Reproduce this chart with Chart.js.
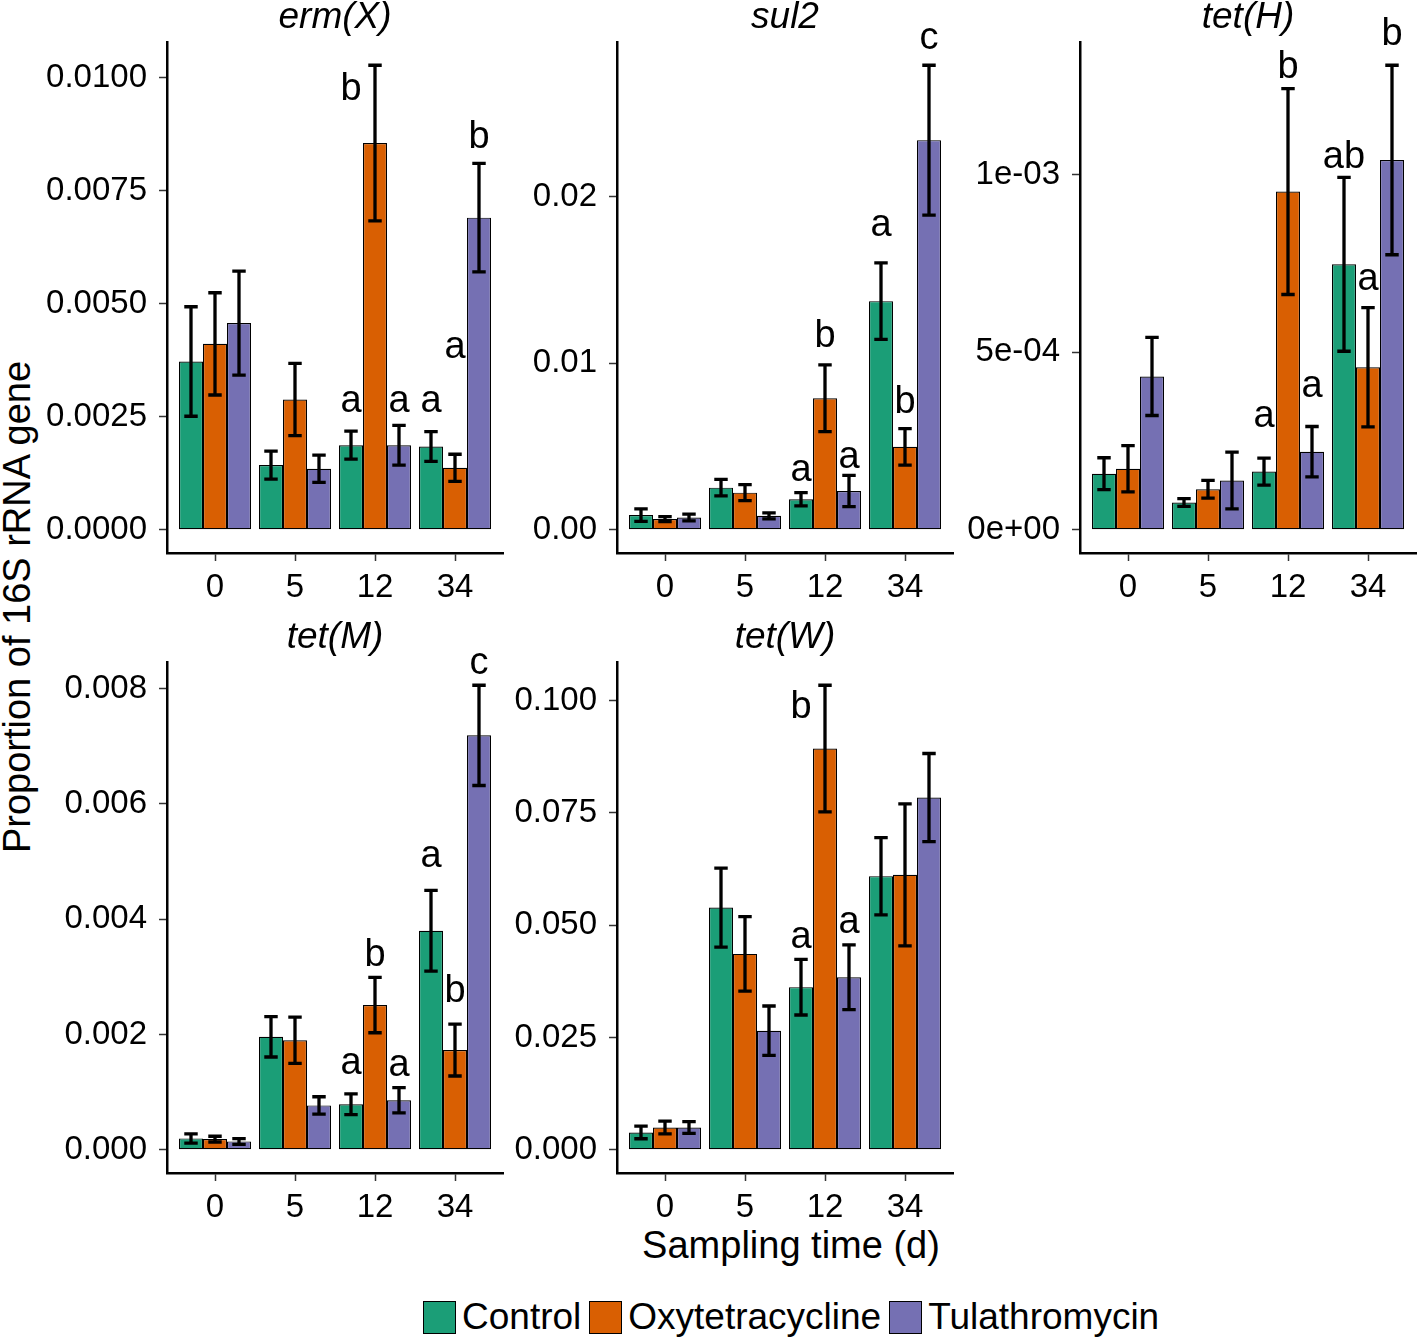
<!DOCTYPE html>
<html>
<head>
<meta charset="utf-8">
<script src="https://cdn.jsdelivr.net/npm/chart.js@4.4.1/dist/chart.umd.min.js"></script>
<style>
  body { margin: 0; background: #fff; width: 1418px; height: 1342px; position: relative; overflow: hidden;
         font-family: 'Liberation Sans', Arial, sans-serif; color: #000; }
  canvas { position: absolute; }
  .ytitle { position: absolute; left: 17px; top: 607px; transform: translate(-50%, -50%) rotate(-90deg);
            white-space: nowrap; font-size: 38px; }
  .xtitle { position: absolute; left: 791px; top: 1245px; transform: translate(-50%, -50%);
            white-space: nowrap; font-size: 38px; }
  #legend { position: absolute; left: 423px; top: 1300px; display: flex; align-items: center; height: 34px; }
  #legend .box { width: 31px; height: 31px; border: 1.5px solid #000; margin-right: 6px; }
  #legend .lab { font-size: 37px; line-height: 34px; margin-right: 8px; }
</style>
</head>
<body>
<div class="ytitle">Proportion of 16S rRNA gene</div>
<div class="xtitle">Sampling time (d)</div>
<div id="legend"></div>

<script>
// sampling days and treatments
const days = ['0', '5', '12', '34'];
const treatments = ['Control', 'Oxytetracycline', 'Tulathromycin'];
const colors = ['#1B9E77', '#D95F02', '#7570B3'];

// erm(X): means and standard errors, one row per treatment
const ermX_mean = [[0.00372, 0.00143, 0.00187, 0.00184],
                   [0.00411, 0.00288, 0.00855, 0.00137],
                   [0.00457, 0.00135, 0.00187, 0.00690]];
const ermX_se   = [[0.00121, 0.00031, 0.00031, 0.00033],
                   [0.00113, 0.00080, 0.00172, 0.00030],
                   [0.00115, 0.00030, 0.00044, 0.00120]];
const ermX_ticks = [0, 0.0025, 0.005, 0.0075, 0.01];
const ermX_tickLabels = ['0.0000', '0.0025', '0.0050', '0.0075', '0.0100'];
// [day index, treatment index, letter, height]
const ermX_letters = [[2, 0, 'a', 0.0026], [2, 1, 'b', 0.00951], [2, 2, 'a', 0.0026],
                      [3, 0, 'a', 0.0026], [3, 1, 'a', 0.0038], [3, 2, 'b', 0.00845]];

// sul2
const sul2_mean = [[0.00088, 0.00253, 0.00183, 0.01373],
                   [0.00064, 0.00223, 0.00790, 0.00498],
                   [0.00074, 0.00084, 0.00233, 0.02340]];
const sul2_se   = [[0.00038, 0.00050, 0.00040, 0.00230],
                   [0.00015, 0.00048, 0.00200, 0.00110],
                   [0.00020, 0.00018, 0.00094, 0.00450]];
const sul2_ticks = [0, 0.01, 0.02];
const sul2_tickLabels = ['0.00', '0.01', '0.02'];
const sul2_letters = [[2, 0, 'a', 0.00291], [2, 1, 'b', 0.01097], [2, 2, 'a', 0.00374],
                      [3, 0, 'a', 0.01765], [3, 1, 'b', 0.00703], [3, 2, 'c', 0.02888]];

// tet(H)
const tetH_mean = [[0.000158, 0.000077, 0.000164, 0.000748],
                   [0.000172, 0.000114, 0.000953, 0.000458],
                   [0.000432, 0.000139, 0.000220, 0.001042]];
const tetH_se   = [[0.000045, 0.000011, 0.000038, 0.000245],
                   [0.000065, 0.000025, 0.000290, 0.000168],
                   [0.000110, 0.000080, 0.000071, 0.000267]];
const tetH_ticks = [0, 0.0005, 0.001];
const tetH_tickLabels = ['0e+00', '5e-04', '1e-03'];
const tetH_letters = [[2, 0, 'a', 0.000291], [2, 1, 'b', 0.001273], [2, 2, 'a', 0.000375],
                      [3, 0, 'ab', 0.00102], [3, 1, 'a', 0.000675], [3, 2, 'b', 0.001366]];

// tet(M)
const tetM_mean = [[0.000197, 0.00196, 0.00079, 0.00380],
                   [0.000185, 0.00190, 0.00251, 0.00173],
                   [0.000145, 0.00077, 0.00086, 0.00719]];
const tetM_se   = [[0.00008, 0.00035, 0.00018, 0.00070],
                   [0.00005, 0.00040, 0.00048, 0.00045],
                   [0.00005, 0.00015, 0.00022, 0.00087]];
const tetM_ticks = [0, 0.002, 0.004, 0.006, 0.008];
const tetM_tickLabels = ['0.000', '0.002', '0.004', '0.006', '0.008'];
const tetM_letters = [[2, 0, 'a', 0.00131], [2, 1, 'b', 0.00318], [2, 2, 'a', 0.00128],
                      [3, 0, 'a', 0.00491], [3, 1, 'b', 0.00257], [3, 2, 'c', 0.00826]];

// tet(W)
const tetW_mean = [[0.00385, 0.0539, 0.0362, 0.0609],
                   [0.00496, 0.0436, 0.0893, 0.0612],
                   [0.00496, 0.0265, 0.0384, 0.0784]];
const tetW_se   = [[0.0014, 0.0088, 0.0062, 0.0086],
                   [0.0014, 0.0083, 0.0141, 0.0158],
                   [0.0013, 0.0055, 0.0072, 0.0098]];
const tetW_ticks = [0, 0.025, 0.05, 0.075, 0.1];
const tetW_tickLabels = ['0.000', '0.025', '0.050', '0.075', '0.100'];
const tetW_letters = [[2, 0, 'a', 0.0449], [2, 1, 'b', 0.0961], [2, 2, 'a', 0.0482]];

Chart.defaults.font.family = "'Liberation Sans', Arial, sans-serif";
Chart.defaults.color = '#000';

// plot area of each facet on the page
const PW = 336, PH = 511, LEFT = 140, TOP = 45, BOTTOM = 60, RIGHT = 6;

function panel(title, pos, mean, se, ticks, tickLabels, letters) {
  const canvas = document.createElement('canvas');
  canvas.width = LEFT + PW + RIGHT;
  canvas.height = TOP + PH + BOTTOM;
  canvas.style.left = (pos[0] - LEFT) + 'px';
  canvas.style.top = (pos[1] - TOP) + 'px';
  document.body.appendChild(canvas);

  // ggplot style range: bars from 0 up to highest error bar, 5% padding
  let top = 0;
  mean.forEach((row, s) => row.forEach((v, d) => { top = Math.max(top, v + se[s][d]); }));

  const extras = {
    id: 'extras_' + title,
    afterDatasetsDraw(chart) {
      const ctx = chart.ctx;
      const y = chart.scales.y;
      const area = chart.chartArea;
      ctx.save();
      // error bars
      ctx.strokeStyle = '#000';
      ctx.lineWidth = 3.3;
      mean.forEach((row, s) => {
        const meta = chart.getDatasetMeta(s);
        row.forEach((v, d) => {
          const el = meta.data[d];
          const hi = y.getPixelForValue(v + se[s][d]);
          const lo = y.getPixelForValue(v - se[s][d]);
          const cap = el.width * 0.28;
          ctx.beginPath();
          ctx.moveTo(el.x, hi); ctx.lineTo(el.x, lo);
          ctx.moveTo(el.x - cap, hi); ctx.lineTo(el.x + cap, hi);
          ctx.moveTo(el.x - cap, lo); ctx.lineTo(el.x + cap, lo);
          ctx.stroke();
        });
      });
      // significance letters
      ctx.fillStyle = '#000';
      ctx.font = "38px 'Liberation Sans', Arial, sans-serif";
      ctx.textAlign = 'center';
      ctx.textBaseline = 'alphabetic';
      letters.forEach(([d, s, txt, h]) => {
        const el = chart.getDatasetMeta(s).data[d];
        // letter sits beside the error bar when it is lower than its top
        const shift = h < mean[s][d] + se[s][d] ? -el.width : 0;
        ctx.fillText(txt, el.x + shift, y.getPixelForValue(h));
      });
      // facet title
      ctx.font = "italic 37px 'Liberation Sans', Arial, sans-serif";
      ctx.textBaseline = 'middle';
      ctx.fillText(title, (area.left + area.right) / 2, area.top - 24);
      ctx.restore();
    }
  };

  new Chart(canvas, {
    type: 'bar',
    data: {
      datasets: treatments.map((t, s) => ({
        label: t,
        data: mean[s].map((v, d) => ({ x: d, y: v })),
        backgroundColor: colors[s],
        borderColor: '#000',
        borderWidth: 1.2,
        borderSkipped: false,
        categoryPercentage: 0.9,
        barPercentage: 1
      }))
    },
    options: {
      responsive: false,
      animation: false,
      devicePixelRatio: 1,
      layout: { padding: { top: TOP, right: RIGHT, left: 0, bottom: 0 }, autoPadding: false },
      plugins: { legend: { display: false }, tooltip: { enabled: false } },
      scales: {
        x: {
          type: 'linear', min: -0.6, max: 3.6, offset: false, bounds: 'data',
          afterBuildTicks: sc => { sc.ticks = days.map((_, i) => ({ value: i })); },
          afterFit: sc => { sc.height = BOTTOM; },
          ticks: { callback: v => days[v], font: { size: 33 }, color: '#000', padding: 7,
                   maxRotation: 0, autoSkip: false },
          grid: { display: true, drawOnChartArea: false, offset: false, tickLength: 8,
                  tickWidth: 1.5, tickColor: '#333' },
          border: { display: true, color: '#000', width: 2.5 }
        },
        y: {
          min: -0.05 * top, max: 1.05 * top, bounds: 'data',
          afterBuildTicks: sc => { sc.ticks = ticks.map(v => ({ value: v })); },
          afterFit: sc => { sc.width = LEFT; },
          ticks: { callback: (v, i) => tickLabels[i], font: { size: 33 }, color: '#000', padding: 12 },
          grid: { display: true, drawOnChartArea: false, tickLength: 8, tickWidth: 1.5, tickColor: '#333' },
          border: { display: true, color: '#000', width: 2.5 }
        }
      }
    },
    plugins: [extras]
  });
}

panel('erm(X)', [167, 42], ermX_mean, ermX_se, ermX_ticks, ermX_tickLabels, ermX_letters);
panel('sul2', [617, 42], sul2_mean, sul2_se, sul2_ticks, sul2_tickLabels, sul2_letters);
panel('tet(H)', [1080, 42], tetH_mean, tetH_se, tetH_ticks, tetH_tickLabels, tetH_letters);
panel('tet(M)', [167, 662], tetM_mean, tetM_se, tetM_ticks, tetM_tickLabels, tetM_letters);
panel('tet(W)', [617, 662], tetW_mean, tetW_se, tetW_ticks, tetW_tickLabels, tetW_letters);

// legend
const legend = document.getElementById('legend');
treatments.forEach((t, s) => {
  const box = document.createElement('span');
  box.className = 'box';
  box.style.background = colors[s];
  const lab = document.createElement('span');
  lab.className = 'lab';
  lab.textContent = t;
  legend.appendChild(box);
  legend.appendChild(lab);
});
</script>
</body>
</html>
